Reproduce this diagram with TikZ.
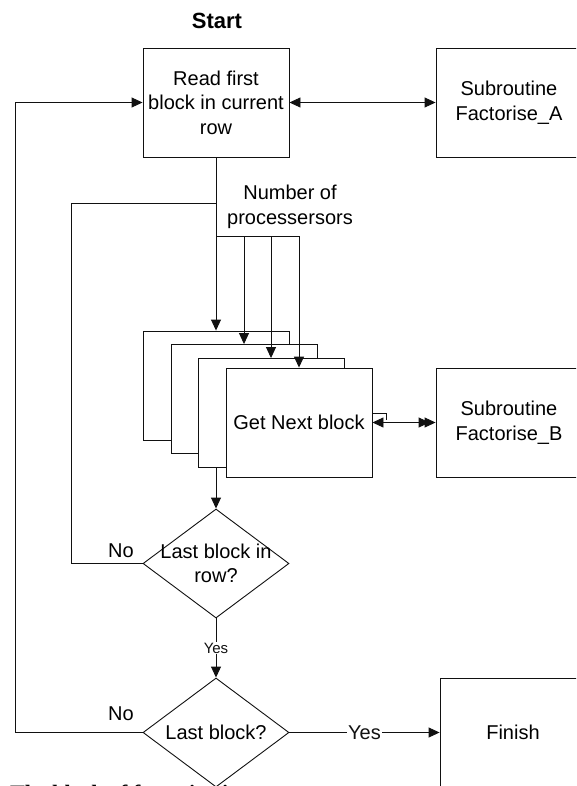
\documentclass[tikz,border=0pt]{standalone}
\usepackage{fontspec}
\setmainfont{Liberation Sans}
\newfontfamily\captionserif{Liberation Serif}
\usepackage{xcolor}
\definecolor{flowink}{HTML}{111111}
\usepackage{tikz}
\usetikzlibrary{shapes.geometric, arrows.meta, positioning, calc}

\begin{document}
\begin{tikzpicture}[x=1pt, y=-1pt,
  procbox/.style={rectangle, draw=flowink, fill=white, line width=0.9pt,
    minimum width=146pt, minimum height=109pt, inner sep=0pt, align=center,
    font=\fontsize{20}{24.5}\selectfont},
  decision/.style={diamond, draw=flowink, fill=white, line width=0.9pt,
    minimum width=146pt, minimum height=109pt, inner sep=0pt},
  flowtext/.style={font=\fontsize{20}{24.5}\selectfont, align=center},
  link/.style={line width=0.9pt, color=flowink},
  arrow/.style={-{Triangle[length=11pt, width=10pt]}, link}
]
\useasboundingbox (0,0) rectangle (576,786);
\clip (0,0) rectangle (576,786);

\node[font=\fontsize{22}{26}\selectfont\bfseries] (start) at (217,21) {Start};
\node[procbox] (read) at (216,102.5) {Read first\\block in current\\row};
\node[procbox] (subA) at (509,102.5) {Subroutine\\Factorise\_A};

% one block per processor, stacked
\node[procbox] (blk1) at (216,385.5) {};
\node[procbox] (blk2) at (244,399) {};
\node[procbox] (blk3) at (271,413) {};
\node[procbox] (blk4) at (299,422.5) {Get Next block};
\node[procbox] (subB) at (509,422.5) {Subroutine\\Factorise\_B};

\node[decision] (dec1) at (216,563.5) {};
\node[flowtext] (dec1txt) at (dec1) {Last block in\\row?};
\node[decision] (dec2) at (216,732.5) {};
\node[flowtext] (dec2txt) at (dec2) {Last block?};
\node[procbox] (fin) at (513,732.5) {Finish};

\node[flowtext] (nproc) at (290,207) {Number of\\processersors};
\node[flowtext] (no1) at (121,551) {No};
\node[flowtext] (no2) at (121,714) {No};

\coordinate (join) at (216,203);
\coordinate (fork) at (216,236);
\coordinate (inner) at (71,0);
\coordinate (outer) at (15,0);

\draw[{Triangle[length=11pt, width=10pt]}-{Triangle[length=11pt, width=10pt]}, link]
  (read) -- (subA);
\draw[arrow] (read.south) -- (blk1.north);
\draw[arrow] (fork) -| (blk2.north);
\draw[arrow] (fork) -| (blk3.north);
\draw[arrow] (fork) -| (blk4.north);

\draw[link] ([yshift=9.5pt]blk4.east) -| ([xshift=13.5pt, yshift=2.5pt]blk4.east);
\draw[{Triangle[length=11pt, width=10pt]}-{Triangle[length=11pt, width=10pt, sep=-5pt]Triangle[length=11pt, width=10pt]}, link]
  (blk4) -- (subB);

\draw[arrow] (read.center |- blk3.south) -- (dec1.north);
\draw[link] (dec1.west) -- (dec1.west -| inner) |- (join);
\draw[arrow] (dec1.south) -- node[fill=white, inner sep=1pt,
  font=\fontsize{15}{18}\selectfont] (yes1) {Yes} (dec2.north);
\draw[arrow] (dec2.west) -- (dec2.west -| outer) |- (read.west);
\draw[arrow] (dec2.east) -- node[flowtext, fill=white, inner sep=1pt] (yes2) {Yes} (fin.west);

\node[anchor=base west, inner sep=0pt,
  font=\captionserif\bfseries\fontsize{22}{26}\selectfont] (caption) at (10,800)
  {The block of factorisation};
\end{tikzpicture}
\end{document}
